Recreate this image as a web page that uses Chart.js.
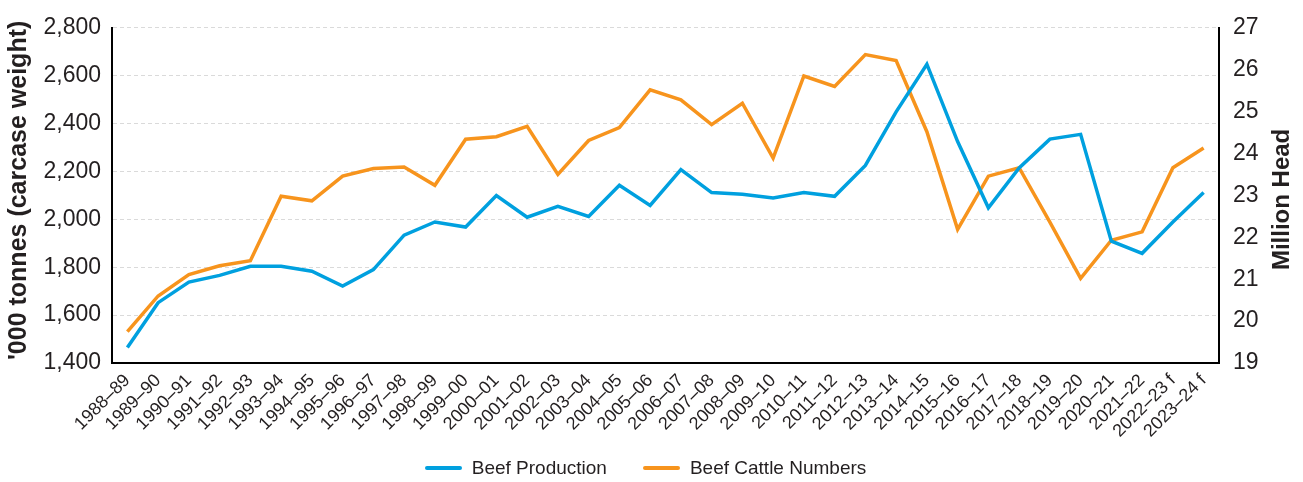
<!DOCTYPE html>
<html>
<head>
<meta charset="utf-8">
<script src="https://cdn.jsdelivr.net/npm/chart.js@4/dist/chart.umd.min.js"></script>
<style>
  body { margin: 0; background: #fff; }
  #wrap { width: 1303px; height: 482px; position: relative; }
  #legenda {
    position: absolute; left: -6px; top: 456px; width: 1303px; height: 24px;
    display: flex; justify-content: center; align-items: center; gap: 36px;
    font-family: "Liberation Sans", Arial, sans-serif; font-size: 19px; color: #231F20;
  }
  #legenda span.item { display: flex; align-items: center; }
  #legenda span.traco { display: inline-block; width: 37px; height: 4px; margin-right: 10px; border-radius: 2px; }
</style>
</head>
<body>
<div id="wrap">
  <canvas id="grafico"></canvas>
  <div id="legenda"></div>
</div>
<script>
const anos = ['1988–89', '1989–90', '1990–91', '1991–92', '1992–93', '1993–94', '1994–95', '1995–96',
  '1996–97', '1997–98', '1998–99', '1999–00', '2000–01', '2001–02', '2002–03', '2003–04', '2004–05',
  '2005–06', '2006–07', '2007–08', '2008–09', '2009–10', '2010–11', '2011–12', '2012–13', '2013–14',
  '2014–15', '2015–16', '2016–17', '2017–18', '2018–19', '2019–20', '2020–21', '2021–22',
  '2022–23 f', '2023–24 f'];

// '000 tonnes carcase weight
const producao = [1465, 1652, 1738, 1766, 1804, 1804, 1783, 1721, 1790, 1934, 1989, 1968, 2099, 2009,
  2054, 2012, 2142, 2058, 2208, 2112, 2105, 2089, 2112, 2096, 2225, 2449, 2648, 2325, 2048, 2215,
  2335, 2355, 1909, 1858, 1989, 2112];

// million head
const rebanho = [19.75, 20.6, 21.11, 21.32, 21.44, 22.98, 22.87, 23.46, 23.64, 23.68, 23.24, 24.34,
  24.40, 24.65, 23.50, 24.31, 24.62, 25.52, 25.28, 24.69, 25.20, 23.89, 25.85, 25.60, 26.36, 26.22,
  24.52, 22.19, 23.46, 23.66, 22.36, 21.02, 21.93, 22.13, 23.66, 24.13];

const tituloEsq = "'000 tonnes (carcase weight)";
const tituloDir = 'Million Head';

const fonte = '"Liberation Sans", Arial, sans-serif';
const corTexto = '#231F20';
const azul = '#00A0DF';
const laranja = '#F7941D';

function textoVertical(ctx, texto, x, y, tamanho) {
  ctx.save();
  ctx.translate(x, y);
  ctx.rotate(-Math.PI / 2);
  ctx.font = 'bold ' + tamanho + 'px ' + fonte;
  ctx.fillStyle = corTexto;
  ctx.textAlign = 'center';
  ctx.textBaseline = 'middle';
  ctx.fillText(texto, 0, 0);
  ctx.restore();
}

// titulos dos dois eixos, lidos de baixo para cima
const titulosEixos = {
  id: 'titulosEixos',
  afterDraw(chart) {
    const meio = (chart.chartArea.top + chart.chartArea.bottom) / 2;
    textoVertical(chart.ctx, tituloEsq, 19, meio - 5, 25);
    textoVertical(chart.ctx, tituloDir, 1282, meio + 4, 24);
  }
};

const ctx = document.getElementById('grafico').getContext('2d');
window.grafico = new Chart(ctx, {
  type: 'line',
  data: {
    labels: anos,
    datasets: [{
      label: 'Beef Production',
      data: producao,
      yAxisID: 'y',
      borderColor: azul,
      backgroundColor: azul,
      borderWidth: 3.5,
      pointRadius: 0,
      tension: 0
    }, {
      label: 'Beef Cattle Numbers',
      data: rebanho,
      yAxisID: 'y1',
      borderColor: laranja,
      backgroundColor: laranja,
      borderWidth: 3.5,
      pointRadius: 0,
      tension: 0
    }]
  },
  options: {
    responsive: true,
    maintainAspectRatio: false,
    animation: false,
    layout: { padding: { top: 23, left: 0, right: 0, bottom: 0 } },
    plugins: {
      tooltip: { enabled: false },
      legend: { display: false }
    },
    scales: {
      x: {
        offset: true,
        grid: { display: false, drawTicks: false },
        border: { display: true, color: '#000', width: 2 },
        ticks: {
          autoSkip: false,
          minRotation: 45,
          maxRotation: 45,
          padding: 7,
          color: corTexto,
          font: { family: fonte, size: 18 }
        },
        afterFit(s) { s.height = 119; }
      },
      y: {
        position: 'left',
        min: 1400,
        max: 2800,
        grid: { color: '#DADADA', lineWidth: 1, drawTicks: false },
        border: { display: true, color: '#000', width: 2, dash: [4, 3] },
        ticks: {
          stepSize: 200,
          padding: 11,
          color: corTexto,
          font: { family: fonte, size: 23 },
          callback: v => v.toLocaleString('en-US')
        },
        afterFit(s) { s.width = 112; }
      },
      y1: {
        position: 'right',
        min: 19,
        max: 27,
        grid: { drawOnChartArea: false, drawTicks: false },
        border: { display: true, color: '#000', width: 2 },
        ticks: {
          stepSize: 1,
          padding: 14,
          color: corTexto,
          font: { family: fonte, size: 23 }
        },
        afterFit(s) { s.width = 84; }
      }
    }
  },
  plugins: [titulosEixos]
});

// legenda em html, com os mesmos nomes e cores das series
const legenda = document.getElementById('legenda');
window.grafico.data.datasets.forEach(ds => {
  const item = document.createElement('span');
  item.className = 'item';
  const traco = document.createElement('span');
  traco.className = 'traco';
  traco.style.background = ds.borderColor;
  item.appendChild(traco);
  item.appendChild(document.createTextNode(ds.label));
  legenda.appendChild(item);
});
</script>
</body>
</html>
